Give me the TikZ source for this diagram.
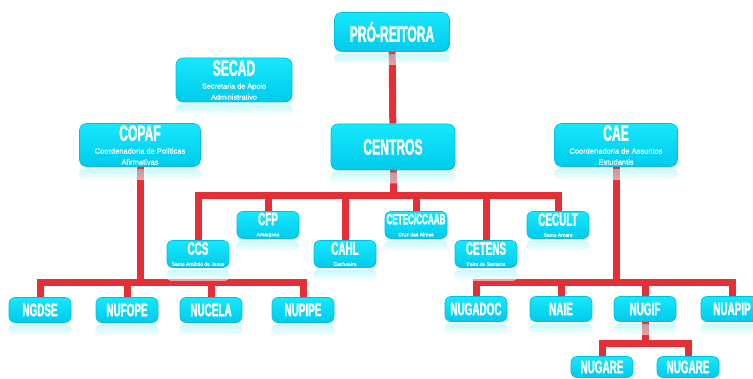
\documentclass[tikz,border=0pt]{standalone}
\usepackage{fontspec}
\setmainfont{Liberation Sans}
\newfontfamily\tfont[FakeStretch=0.55,FakeBold=1.5]{Liberation Sans Bold}
\newfontfamily\sfont[FakeBold=0.6]{Liberation Sans}
\usetikzlibrary{backgrounds}
\definecolor{boxtop}{RGB}{22,232,252}
\definecolor{boxbot}{RGB}{0,202,236}
\definecolor{boxline}{RGB}{0,190,222}
\definecolor{linkred}{RGB}{229,46,54}
\tikzset{
  box/.style={rectangle, rounded corners=7pt, top color=boxtop, bottom color=boxbot,
    draw=boxline, line width=0.6pt, inner sep=0pt, text=white, align=center},
  bigbox/.style={box, minimum width=#1, minimum height=44pt},
  smallbox/.style={box, rounded corners=6pt, minimum width=62pt, minimum height=27pt},
  leafbox/.style={box, rounded corners=6pt, minimum width=62pt, minimum height=25pt},
  link/.style={draw=linkred, line width=7pt},
}
\newcommand\ttl[2]{{\tfont\fontsize{#1}{#1}\selectfont #2}}
\newcommand\sub[2]{{\sfont\fontsize{#1}{#1}\selectfont #2}}
\begin{document}
\begin{tikzpicture}[x=1pt,y=-1pt]
\useasboundingbox (0,0) rectangle (753,379);
\clip (0,0) rectangle (753,379);
% top level
\node[bigbox=115pt, minimum height=39pt] (pro) at (392,32) {\ttl{22}{PRÓ-REITORA}};
\node[bigbox=116pt] (secad) at (234,80) {\ttl{22}{SECAD}\\[1pt]\sub{7.3}{Secretaria de Apoio}\\[-1pt]\sub{7.3}{Administrativo}};
\node[bigbox=121pt, minimum height=43pt] (copaf) at (140,145) {\ttl{22}{COPAF}\\[1pt]\sub{7.5}{Coordenadoria de Políticas}\\[-1pt]\sub{7.5}{Afirmativas}};
\node[bigbox=124pt, minimum height=46pt] (centros) at (393,147) {\ttl{22}{CENTROS}};
\node[bigbox=123pt, minimum height=43pt] (cae) at (616,145) {\ttl{22}{CAE}\\[1pt]\sub{7.5}{Coordenadoria de Assuntos}\\[-1pt]\sub{7.5}{Estudantis}};
% centros
\node[smallbox] (ccs) at (198,254) {\ttl{18}{CCS}\\[-1pt]\sub{5}{Santo Antônio de Jesus}};
\node[smallbox] (cfp) at (268,225) {\ttl{18}{CFP}\\[-1pt]\sub{5}{Amargosa}};
\node[smallbox] (cahl) at (345,254) {\ttl{18}{CAHL}\\[-1pt]\sub{5}{Cachoeira}};
\node[smallbox] (cetec) at (416,225) {\ttl{14.7}{CETEC/CCAAB}\\[0pt]\sub{5}{Cruz das Almas}};
\node[smallbox] (cetens) at (486,254) {\ttl{18}{CETENS}\\[-1pt]\sub{5}{Feira de Santana}};
\node[smallbox] (cecult) at (558,225) {\ttl{18}{CECULT}\\[-1pt]\sub{5}{Santo Amaro}};
% copaf leaves
\node[leafbox] (ngdse) at (40,310) {\ttl{18}{NGDSE}};
\node[leafbox] (nufope) at (127,310) {\ttl{18}{NUFOPE}};
\node[leafbox] (nucela) at (211,310) {\ttl{18}{NUCELA}};
\node[leafbox] (nupipe) at (303,310) {\ttl{18}{NUPIPE}};
% cae leaves
\node[leafbox] (nugadoc) at (476,309) {\ttl{18}{NUGADOC}};
\node[leafbox] (naie) at (561,309) {\ttl{18}{NAIE}};
\node[leafbox] (nugif) at (645,309) {\ttl{18}{NUGIF}};
\node[leafbox] (nuapip) at (732,309) {\ttl{18}{NUAPIP}};
% nugif leaves
\node[leafbox, minimum height=21pt] (nugare1) at (602,367) {\ttl{18}{NUGARE}};
\node[leafbox, minimum height=21pt] (nugare2) at (688,367) {\ttl{18}{NUGARE}};
% bus points
\coordinate (cbus) at (393,196);
\coordinate (pbus) at (140,283);
\coordinate (abus) at (616,283);
\coordinate (gbus) at (645,344);
\begin{scope}[on background layer]
  \draw[link] (pro) -- (centros);
  \foreach \c in {ccs,cfp,cahl,cetec,cetens,cecult} \draw[link] (centros) -- (cbus) -| (\c);
  \foreach \c in {ngdse,nufope,nucela,nupipe} \draw[link] (copaf) -- (pbus) -| (\c);
  \foreach \c in {nugadoc,naie,nugif,nuapip} \draw[link] (cae) -- (abus) -| (\c);
  \foreach \c in {nugare1,nugare2} \draw[link] (nugif) -- (gbus) -| (\c);
\end{scope}
% reflections
\foreach \n in {pro,secad,copaf,centros,cae,ccs,cfp,cahl,cetec,cetens,cecult,ngdse,nufope,nucela,nupipe,nugadoc,naie,nugif,nuapip}
  \shade[top color=boxtop!45, bottom color=white, fill opacity=0.55, rounded corners=4pt]
    ([yshift=-2pt]\n.south west) rectangle ([yshift=-13pt]\n.south east);
\end{tikzpicture}
\end{document}
